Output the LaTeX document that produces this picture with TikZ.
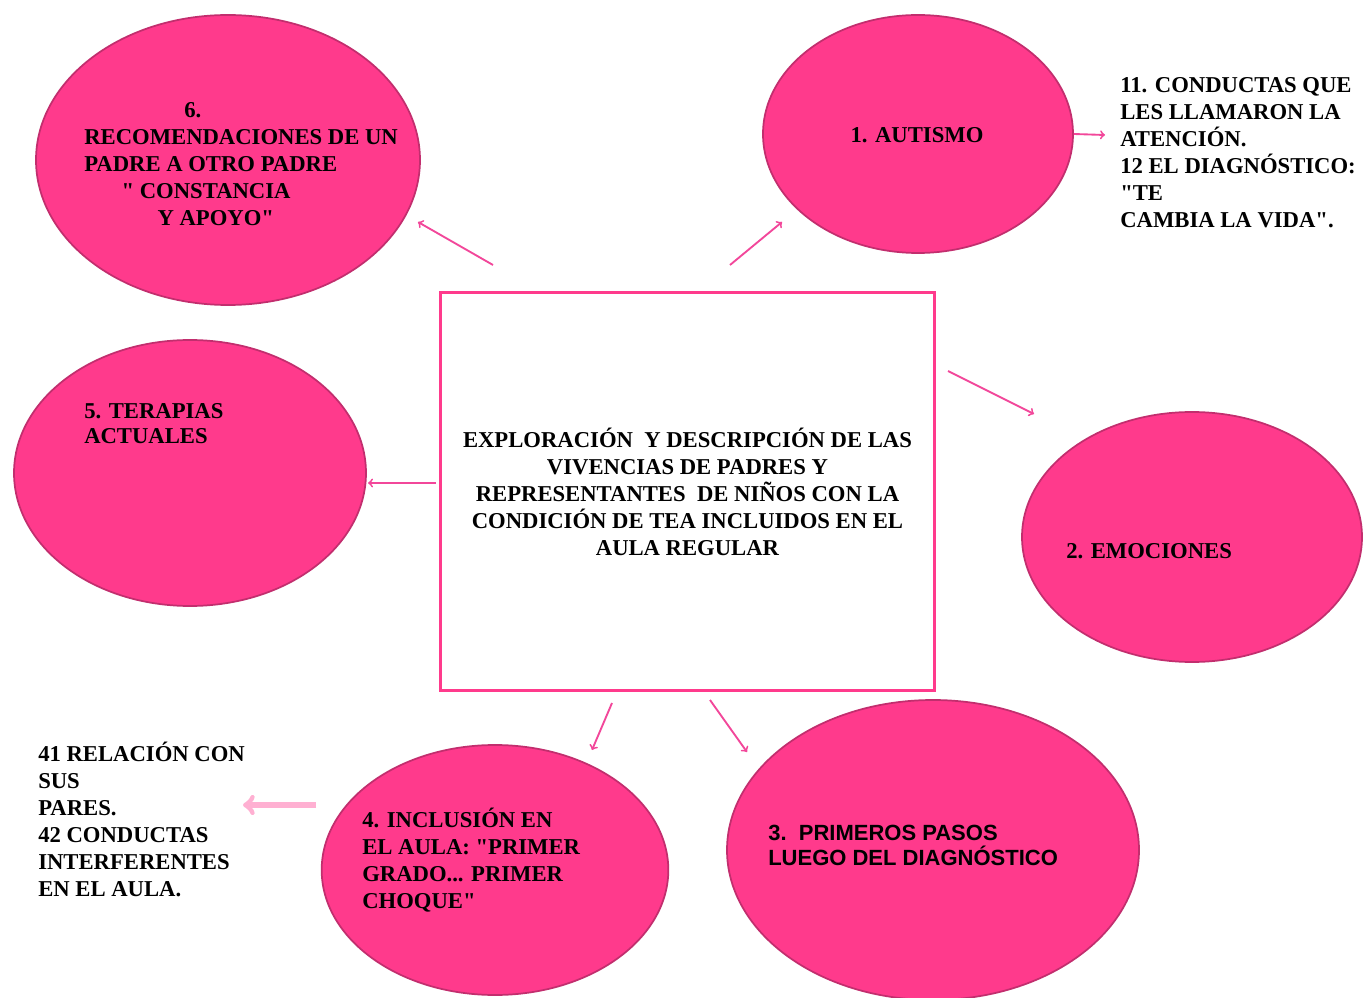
\documentclass[tikz,border=0pt]{standalone}
\usepackage{fontspec}
\setmainfont{Liberation Serif}
\setsansfont{Liberation Sans}
\usetikzlibrary{shapes.geometric}
\definecolor{rosa}{HTML}{FF3A8C}
\definecolor{bordeglobo}{HTML}{C22E6E}
\definecolor{rosaflecha}{HTML}{F2479A}
\definecolor{rosaclaro}{HTML}{FFB0D2}
\newcommand{\cq}{\textquotedbl}
\tikzset{
  globo/.style={ellipse, draw=bordeglobo, fill=rosa, line width=1.3pt, inner sep=0pt},
  texto/.style={font=\fontsize{17}{20.25}\selectfont\bfseries, align=left, anchor=base west, inner sep=0pt},
  flecha/.style={->, draw=rosaflecha, line width=1.4pt}
}
\begin{document}
\begin{tikzpicture}[x=0.75pt, y=-0.75pt]
\useasboundingbox (0,0) rectangle (1364,998);
% globos
\node[globo, minimum width=288pt, minimum height=217.5pt] (e6) at (228,160) {};
\node[globo, minimum width=232.5pt, minimum height=178.5pt] (e1) at (918,134) {};
\node[globo, minimum width=264pt, minimum height=199.5pt] (e5) at (190,473) {};
\node[globo, minimum width=255pt, minimum height=187.5pt] (e2) at (1192,537) {};
\node[globo, minimum width=260pt, minimum height=187.5pt] (e4) at (495,870) {};
\node[globo, minimum width=309pt, minimum height=225pt] (e3) at (933,850) {};
% cuadro central
\node[draw=rosa, line width=2.2pt, minimum width=371pt, minimum height=298pt,
  align=center, font=\fontsize{17}{20.25}\selectfont\bfseries] (centro) at (687.5,491.5)
  {EXPLORACIÓN\ \ Y DESCRIPCIÓN DE LAS\\VIVENCIAS DE PADRES Y\\REPRESENTANTES\ \ DE NIÑOS CON LA\\CONDICIÓN DE TEA INCLUIDOS EN EL\\AULA REGULAR};
% textos (anclados en la linea base de la ultima linea)
\node[texto] (t6) at (84,226) {\hspace*{75pt}6.\\RECOMENDACIONES DE UN\\PADRE A OTRO PADRE\\\hspace*{28pt}\cq{} CONSTANCIA\\\hspace*{55pt}Y APOYO\cq};
\node[texto, anchor=center] (t1) at (917,135) {1. AUTISMO};
\node[texto] (t11) at (1120,228) {11. CONDUCTAS QUE\\LES LLAMARON LA\\ATENCIÓN.\\12 EL DIAGNÓSTICO:\\\cq TE\\CAMBIA LA VIDA\cq.};
\node[texto, font=\fontsize{17}{19}\selectfont\bfseries] (t5) at (84,444) {5. TERAPIAS\\ACTUALES};
\node[texto] (t2) at (1066,558) {2. EMOCIONES};
\node[texto] (t41) at (38,896) {41 RELACIÓN CON\\SUS\\PARES.\\42 CONDUCTAS\\INTERFERENTES\\EN EL AULA.};
\node[texto] (t4) at (362,908) {4. INCLUSIÓN EN\\EL AULA: \cq PRIMER\\GRADO... PRIMER\\CHOQUE\cq};
\node[texto, font=\fontsize{16.5}{18.75}\selectfont\sffamily\bfseries] (t3) at (768,865) {3.\ \ PRIMEROS PASOS\\LUEGO DEL DIAGNÓSTICO};
% flechas
\coordinate (s6) at (493,265); \coordinate (p6) at (418,222);
\coordinate (s1) at (730,265); \coordinate (p1) at (782,222);
\coordinate (p11) at (1105,135);
\coordinate (s2) at (948,371); \coordinate (p2) at (1034,414);
\coordinate (s5) at (436,483); \coordinate (p5) at (368,483);
\coordinate (s4) at (612,703); \coordinate (p4) at (592,750);
\coordinate (s3) at (710,700); \coordinate (p3) at (747,752);
\coordinate (s41) at (316,805); \coordinate (p41) at (243,805);
\draw[flecha] (s6) -- (p6);
\draw[flecha] (s1) -- (p1);
\draw[flecha] (e1.east) -- (p11);
\draw[flecha] (s2) -- (p2);
\draw[flecha] (s5) -- (p5);
\draw[flecha] (s4) -- (p4);
\draw[flecha] (s3) -- (p3);
\draw[flecha, draw=rosaclaro, line width=4pt] (s41) -- (p41);
\end{tikzpicture}
\end{document}
